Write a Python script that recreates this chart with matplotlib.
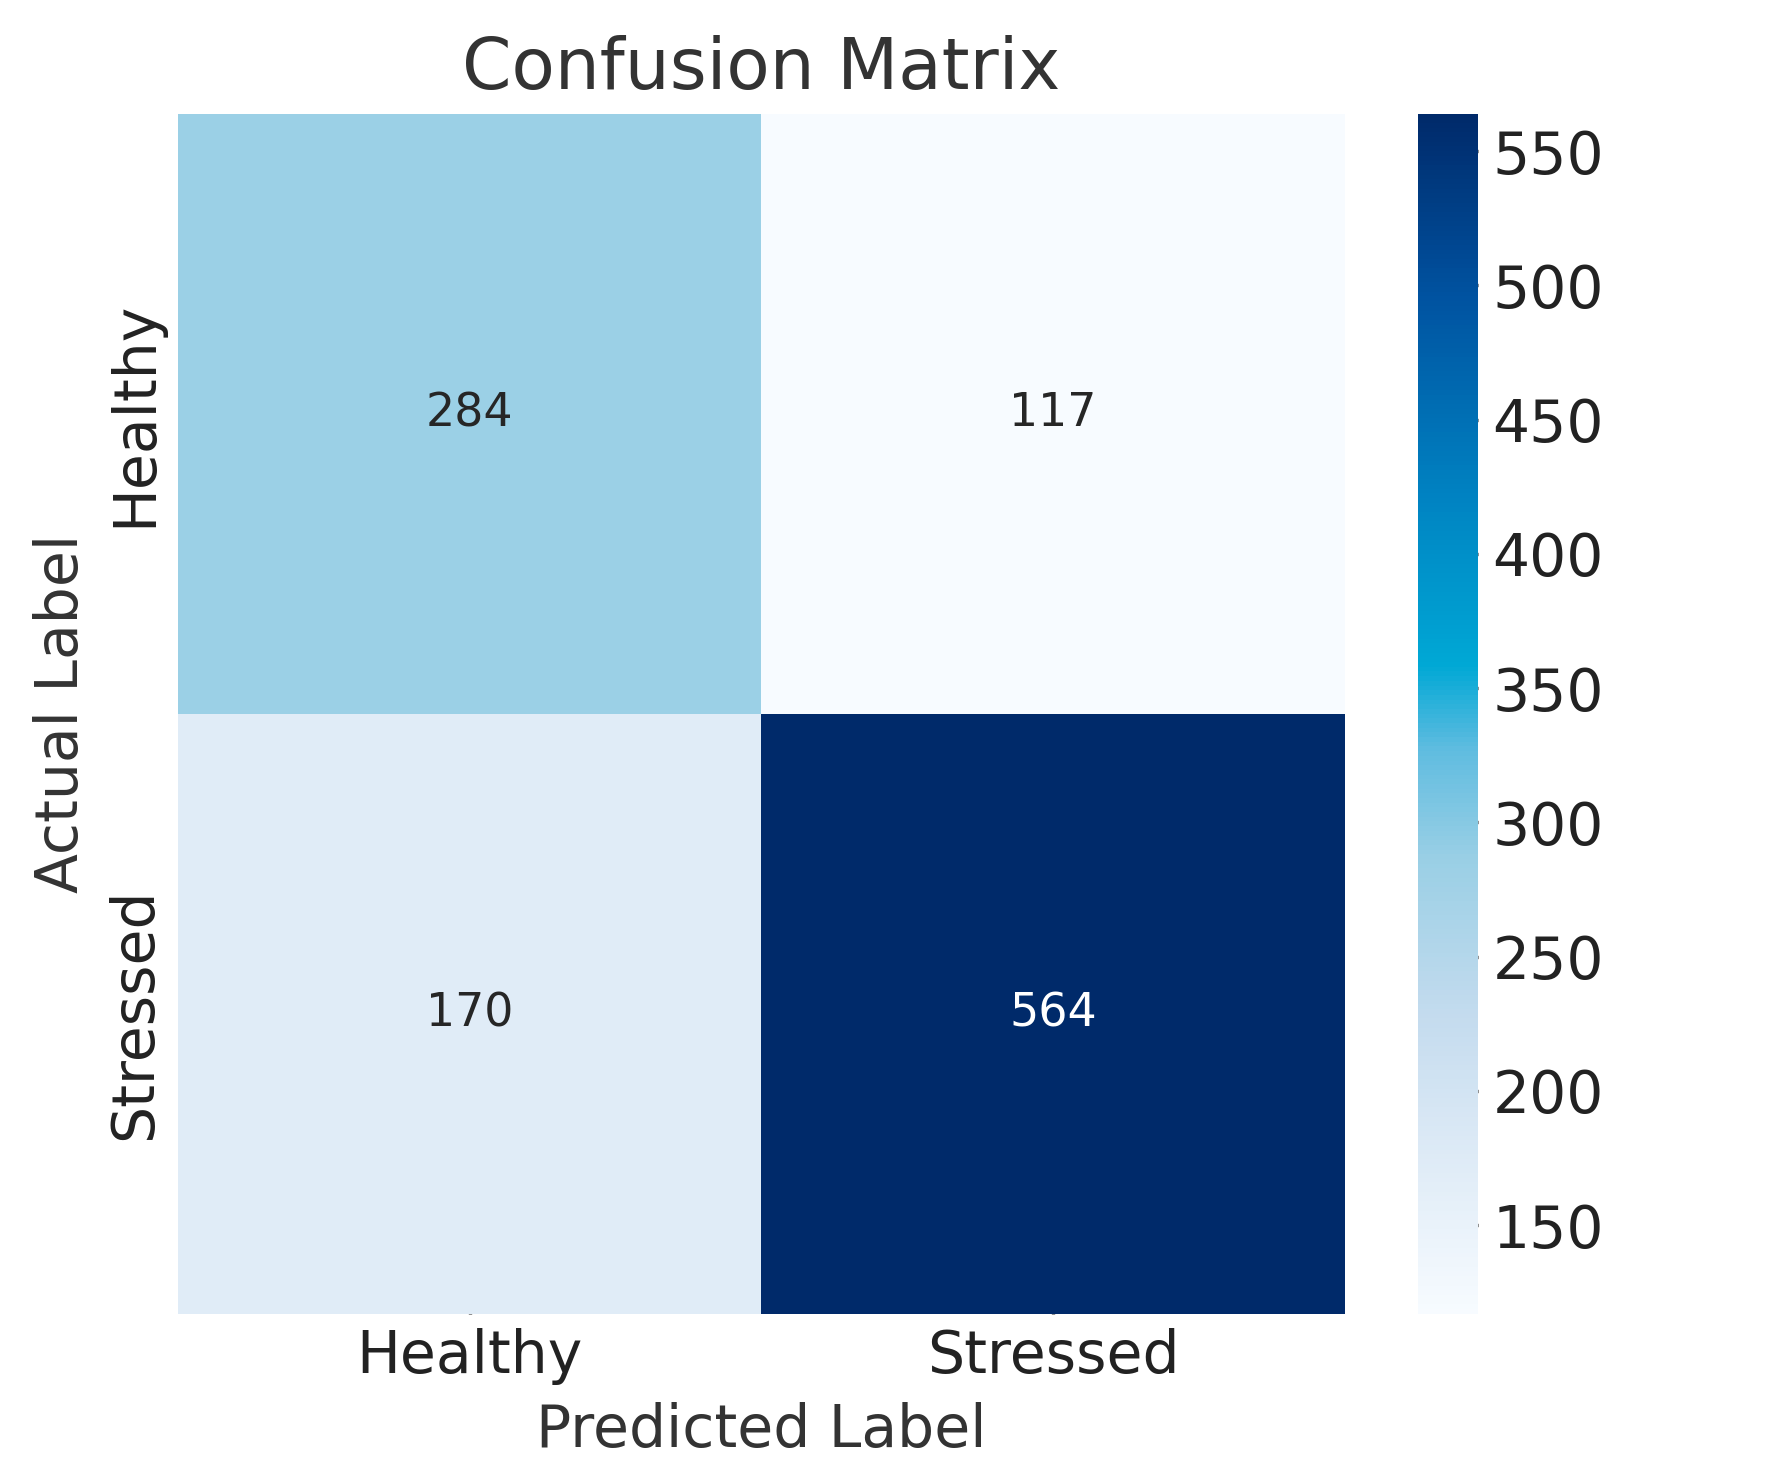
import matplotlib
matplotlib.use("Agg")
import matplotlib.pyplot as plt
from matplotlib.colors import LinearSegmentedColormap
import seaborn as sns
import numpy as np

labels = ["Healthy", "Stressed"]
values = [[284, 117], [170, 564]]

cmap = LinearSegmentedColormap.from_list("custom", [
    (0.0, "#f7fbff"), (0.15, "#dae8f5"), (0.25, "#c3dbee"),
    (0.38, "#99cfe5"), (0.47, "#5fbce0"), (0.54, "#00a8d5"),
    (0.68, "#0083c2"), (0.85, "#0052a0"), (1.0, "#002a6a")])

sns.set_theme(style="white", font_scale=1.1)
plt.rcParams["text.color"] = "#333333"
plt.rcParams["axes.labelcolor"] = "#333333"
plt.rcParams["xtick.color"] = "#222222"
plt.rcParams["ytick.color"] = "#222222"
fig, ax = plt.subplots(figsize=(1779/300, 1476/300), dpi=300)
sns.heatmap(np.array(values), annot=True, fmt="d", cmap=cmap,
            xticklabels=labels, yticklabels=labels, ax=ax,
            annot_kws={"fontsize": 11})
ax.set_title("Confusion Matrix", fontsize=17)
ax.set_xlabel("Predicted Label", fontsize=14)
ax.set_ylabel("Actual Label", fontsize=14)
ax.tick_params(labelsize=14, direction="in", bottom=True, left=True, length=4, width=0.8, colors="#222222")
cax = fig.axes[-1]
cax.tick_params(labelsize=14, direction="in", right=True, length=4, width=0.8)
fig.subplots_adjust(left=0.1, right=0.92, top=0.923, bottom=0.11)
fig.savefig("out.png", dpi=300)
